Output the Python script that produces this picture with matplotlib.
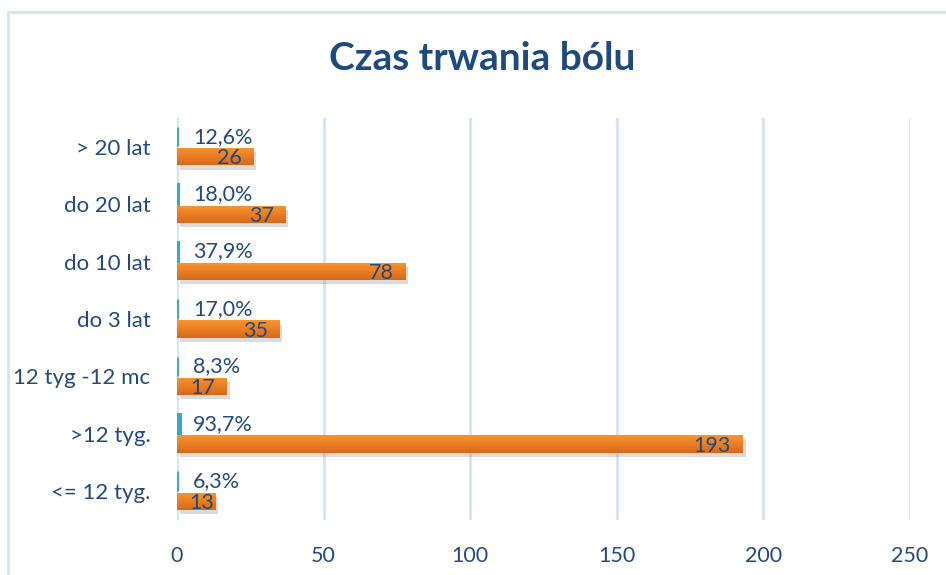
import matplotlib
matplotlib.use('Agg')
import matplotlib.pyplot as plt
import matplotlib.patheffects as pe
from matplotlib.patches import Rectangle
import numpy as np

categories = ['<= 12 tyg.', '>12 tyg.', '12 tyg -12 mc', 'do 3 lat', 'do 10 lat', 'do 20 lat', '> 20 lat']
counts = [13, 193, 17, 35, 78, 37, 26]
shares = [0.063, 0.937, 0.083, 0.170, 0.379, 0.180, 0.126]
share_labels = ['6,3%', '93,7%', '8,3%', '17,0%', '37,9%', '18,0%', '12,6%']

text_col = '#244a7c'
grid_col = '#d6e3f3'
plt.rcParams['font.family'] = ['Lato', 'DejaVu Sans']

fig = plt.figure(figsize=(9.46, 5.75), dpi=100)
ax = fig.add_axes([177 / 946, 55 / 575, 733 / 946, 402 / 575])

# chart border (left and top visible)
fig.patches.append(Rectangle((8 / 946, -0.1), 1.2, 1.1 - 12 / 575, transform=fig.transFigure,
                             fill=False, edgecolor=grid_col, lw=2))

y = np.arange(len(categories))
off = 0.175

teal = ax.barh(y + off, shares, height=0.34, color='#3aa6c8', edgecolor='#3aa6c8', lw=2.2, zorder=3)
orange = ax.barh(y - off, counts, height=0.3, color='none', edgecolor='none', zorder=3)

grad = np.linspace(0, 1, 50).reshape(-1, 1)
cmap = matplotlib.colors.LinearSegmentedColormap.from_list('og', ['#f9952f', '#d8691b'])
for p in orange:
    x0, y0, w, hh = p.get_x(), p.get_y(), p.get_width(), p.get_height()
    sh = Rectangle((x0, y0), w, hh, facecolor='#ffffff', edgecolor='none', zorder=3,
                   path_effects=[pe.SimplePatchShadow(offset=(2, -3), shadow_rgbFace='#8a8a8a', alpha=0.3), pe.Normal()])
    ax.add_patch(sh)
    im = ax.imshow(grad, extent=(x0, x0 + w, y0, y0 + hh), origin='upper', aspect='auto', cmap=cmap, zorder=4)
    im.set_clip_path(sh)

for i in range(len(categories)):
    ax.text(5.4, y[i] + off, share_labels[i], ha='left', va='center', fontsize=15.5, color=text_col, zorder=5)
    ax.text(max(counts[i] - 4, 12.6), y[i] - off - 0.03, str(counts[i]), ha='right', va='center',
            fontsize=15.5, color=text_col, zorder=5)

ax.set_xlim(0, 250)
ax.set_ylim(-0.5, 6.5)
ax.set_xticks([0, 50, 100, 150, 200, 250])
ax.set_yticks(y)
ax.set_yticklabels(categories)
ax.grid(axis='x', color=grid_col, lw=2, zorder=0)
ax.axvline(0, color=grid_col, lw=2, zorder=1)
for s in ax.spines.values():
    s.set_visible(False)
ax.tick_params(axis='both', length=0, colors=text_col)
ax.tick_params(axis='y', pad=19, labelsize=16)
ax.tick_params(axis='x', pad=19, labelsize=15.5)

fig.text(482 / 946, 1 - 58 / 575, 'Czas trwania bólu', ha='center', va='center',
         fontsize=28, fontweight='bold', color='#1f4a7e')

fig.savefig('out.png', dpi=100)
